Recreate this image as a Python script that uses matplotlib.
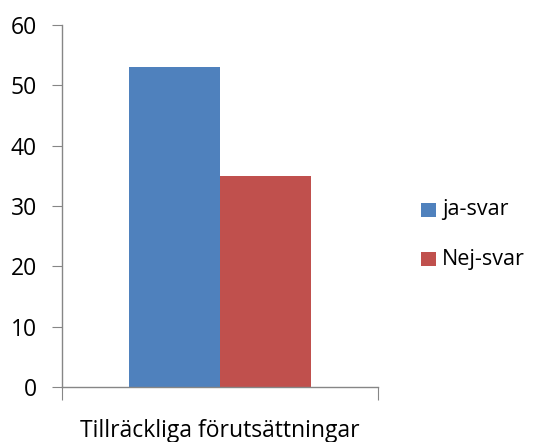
import matplotlib
matplotlib.use("Agg")
import matplotlib.pyplot as plt
from matplotlib.patches import Rectangle

category = "Tillräckliga förutsättningar"
series = ["ja-svar", "Nej-svar"]
values = [53, 35]
colors = ["#4F81BD", "#C0504D"]
yticks = [0, 10, 20, 30, 40, 50, 60]

plt.rcParams["font.family"] = ["Open Sans", "DejaVu Sans"]

W, H = 534, 442
fig = plt.figure(figsize=(W / 100, H / 100), dpi=100)
ax = fig.add_axes([62 / W, 1 - 387 / H, 316 / W, 362 / H])

width = 0.287
centers = [0.5 - width / 2, 0.5 + width / 2]
for c, v, col in zip(centers, values, colors):
    ax.bar(c, v, width=width, color=col, linewidth=0)

ax.set_xlim(0, 1)
ax.set_ylim(0, 60)
ax.set_yticks(yticks)
ax.set_xticks([0, 1])
ax.set_xticklabels(["", ""])
ax.tick_params(axis="y", length=7, color="#868686", labelsize=16.5, pad=11)
ax.tick_params(axis="x", length=9, color="#868686")
for s in ["top", "right"]:
    ax.spines[s].set_visible(False)
for s in ["left", "bottom"]:
    ax.spines[s].set_color("#868686")
    ax.spines[s].set_linewidth(1.0)

fig.text(220 / W, 1 - 437 / H, category, ha="center", va="baseline",
         fontsize=16.5)

# legend entries
for i, (name, col) in enumerate(zip(series, colors)):
    top = 203 + 49 * i
    fig.patches.append(Rectangle((421 / W, 1 - (top + 14) / H), 15 / W, 14 / H,
                                 transform=fig.transFigure, facecolor=col,
                                 edgecolor="none"))
    fig.text(442 / W, 1 - (top + 7) / H, name, ha="left", va="center",
             fontsize=15.5)

fig.savefig("out.png", dpi=100)
